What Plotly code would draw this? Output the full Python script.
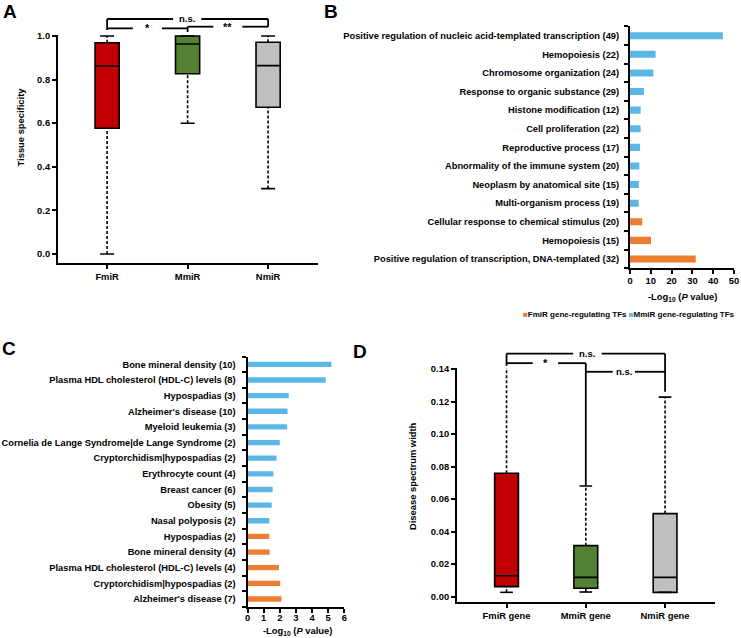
import plotly.graph_objects as go

W, H = 741, 638
FONT = "Liberation Sans, Arial, sans-serif"

# ---------------- Data ----------------
# Panel A: tissue specificity box plots
a_groups = ["FmiR", "MmiR", "NmiR"]
a_lower = [0.0, 0.60, 0.30]
a_q1 = [0.577, 0.827, 0.673]
a_median = [0.862, 0.963, 0.864]
a_q3 = [0.969, 1.0, 0.971]
a_upper = [1.0, 1.0, 1.0]
a_ticks = [0.0, 0.2, 0.4, 0.6, 0.8, 1.0]

# Panel B: TF enrichment
b_terms_mmir = [
    "Positive regulation of nucleic acid-templated transcription (49)",
    "Hemopoiesis (22)",
    "Chromosome organization (24)",
    "Response to organic substance (29)",
    "Histone modification (12)",
    "Cell proliferation (22)",
    "Reproductive process (17)",
    "Abnormality of the immune system (20)",
    "Neoplasm by anatomical site (15)",
    "Multi-organism process (19)",
]
b_vals_mmir = [44.6, 12.3, 11.2, 6.7, 5.1, 5.1, 4.8, 4.5, 4.3, 4.2]
b_terms_fmir = [
    "Cellular response to chemical stimulus (20)",
    "Hemopoiesis (15)",
    "Positive regulation of transcription, DNA-templated (32)",
]
b_vals_fmir = [5.9, 10.1, 31.6]
b_xticks = [0, 10, 20, 30, 40, 50]

# Panel C: disease enrichment
c_terms_mmir = [
    "Bone mineral density (10)",
    "Plasma HDL cholesterol (HDL-C) levels (8)",
    "Hypospadias (3)",
    "Alzheimer's disease (10)",
    "Myeloid leukemia (3)",
    "Cornelia de Lange Syndrome|de Lange Syndrome (2)",
    "Cryptorchidism|hypospadias (2)",
    "Erythrocyte count (4)",
    "Breast cancer (6)",
    "Obesity (5)",
    "Nasal polyposis (2)",
]
c_vals_mmir = [5.2, 4.85, 2.55, 2.48, 2.46, 2.0, 1.8, 1.6, 1.56, 1.5, 1.35]
c_terms_fmir = [
    "Hypospadias (2)",
    "Bone mineral density (4)",
    "Plasma HDL cholesterol (HDL-C) levels (4)",
    "Cryptorchidism|hypospadias (2)",
    "Alzheimer's disease (7)",
]
c_vals_fmir = [1.35, 1.37, 1.95, 2.03, 2.1]
c_xticks = [0, 1, 2, 3, 4, 5, 6]

# Panel D: disease spectrum width box plots
d_groups = ["FmiR gene", "MmiR gene", "NmiR gene"]
d_lower = [0.0027, 0.0029, 0.0027]
d_q1 = [0.0062, 0.0052, 0.0027]
d_median = [0.0129, 0.0119, 0.0119]
d_q3 = [0.0759, 0.0314, 0.0511]
d_upper = [0.1412, 0.0681, 0.1227]
d_ticks = [0.0, 0.02, 0.04, 0.06, 0.08, 0.10, 0.12, 0.14]

legend_names = ["FmiR gene-regulating TFs", "MmiR gene-regulating TFs"]

# ---------------- Style ----------------
box_colors = ["#C00000", "#548235", "#BFBFBF"]
BLUE = "#5BB7E5"
ORANGE = "#ED7D31"
FS = 9.4


def xd(p0, p1):
    return [p0 / W, p1 / W]


def yd(top, bot):
    return [1 - bot / H, 1 - top / H]


AX = {
    "A": dict(xr=[-0.61, 2.62], xdom=xd(58, 318), yr=[-0.04, 1.005], ydom=yd(34.9, 262.7)),
    "B": dict(xr=[0, 50], xdom=xd(630, 734), yr=[12.5, -0.5], ydom=yd(26.4, 268.3)),
    "C": dict(xr=[0, 6], xdom=xd(247.5, 344.3), yr=[15.5, -0.5], ydom=yd(356.5, 606.8)),
    "D": dict(xr=[-0.625, 2.63], xdom=xd(457, 715), yr=[-0.0033, 0.1405], ydom=yd(368.2, 602.1)),
}


def px_(v, rng, dom):
    return dom[0] + (v - rng[0]) / (rng[1] - rng[0]) * (dom[1] - dom[0])


def P(panel, x, y):
    a = AX[panel]
    return px_(x, a["xr"], a["xdom"]), px_(y, a["yr"], a["ydom"])


fig = go.Figure()


def add_boxes(groups, lower, q1, med, q3, upper, xa, ya, capw):
    for i, g in enumerate(groups):
        fig.add_trace(go.Box(
            x=[i], q1=[q1[i]], median=[med[i]], q3=[q3[i]],
            lowerfence=[q1[i]], upperfence=[q3[i]],
            width=0.3, fillcolor=box_colors[i],
            line=dict(color="black", width=1.6),
            boxpoints=False, whiskerwidth=0, name=g, showlegend=False,
            xaxis=xa, yaxis=ya, hoverinfo="skip"))
    wx, wy, cx, cy = [], [], [], []
    for i in range(len(groups)):
        wx += [i, i, None, i, i, None]
        wy += [q3[i], upper[i], None, lower[i], q1[i], None]
        cx += [i - capw, i + capw, None, i - capw, i + capw, None]
        cy += [upper[i], upper[i], None, lower[i], lower[i], None]
    fig.add_trace(go.Scatter(x=wx, y=wy, mode="lines", line=dict(color="black", width=1.6, dash="3px,2px"),
                             showlegend=False, cliponaxis=False, xaxis=xa, yaxis=ya, hoverinfo="skip"))
    fig.add_trace(go.Scatter(x=cx, y=cy, mode="lines", line=dict(color="black", width=1.6),
                             showlegend=False, cliponaxis=False, xaxis=xa, yaxis=ya, hoverinfo="skip"))


add_boxes(a_groups, a_lower, a_q1, a_median, a_q3, a_upper, "x", "y", 0.087)
add_boxes(d_groups, d_lower, d_q1, d_median, d_q3, d_upper, "x4", "y4", 0.08)

# Panel B bars
nb = len(b_terms_mmir)
fig.add_trace(go.Bar(x=b_vals_mmir, y=list(range(nb)), orientation="h", width=0.38,
                     marker=dict(color=BLUE, line=dict(width=0)), name=legend_names[1],
                     showlegend=False, xaxis="x2", yaxis="y2"))
fig.add_trace(go.Bar(x=b_vals_fmir, y=list(range(nb, nb + len(b_terms_fmir))), orientation="h", width=0.38,
                     marker=dict(color=ORANGE, line=dict(width=0)), name=legend_names[0],
                     showlegend=False, xaxis="x2", yaxis="y2"))
# Panel C bars
nc = len(c_terms_mmir)
fig.add_trace(go.Bar(x=c_vals_mmir, y=list(range(nc)), orientation="h", width=0.34,
                     marker=dict(color=BLUE, line=dict(width=0)), showlegend=False,
                     xaxis="x3", yaxis="y3"))
fig.add_trace(go.Bar(x=c_vals_fmir, y=list(range(nc, nc + len(c_terms_fmir))), orientation="h", width=0.34,
                     marker=dict(color=ORANGE, line=dict(width=0)), showlegend=False,
                     xaxis="x3", yaxis="y3"))

TF = dict(family=FONT, size=FS, color="black", weight="bold")
LINE = dict(showline=True, linecolor="black", linewidth=2, zeroline=False, showgrid=False,
            ticks="outside", ticklen=4, tickwidth=2, tickcolor="black", tickfont=TF, automargin=False)

b_terms = b_terms_mmir + b_terms_fmir
c_terms = c_terms_mmir + c_terms_fmir


def cat_y(panel, terms, anchor, standoff, size):
    return dict(domain=AX[panel]["ydom"], range=AX[panel]["yr"], tickvals=list(range(len(terms))),
                ticktext=terms, anchor=anchor, showline=True, linecolor="black", linewidth=2,
                zeroline=False, showgrid=False, ticks="", automargin=False,
                tickfont=dict(family=FONT, size=size, color="black", weight="bold"),
                ticklabelstandoff=standoff,
                minor=dict(tickvals=[i - 0.5 for i in range(len(terms) + 1)], ticks="outside",
                           ticklen=4, tickwidth=2, tickcolor="black", showgrid=False))


fig.update_layout(
    width=W, height=H, margin=dict(l=0, r=0, t=0, b=0, autoexpand=False),
    paper_bgcolor="white", plot_bgcolor="white", showlegend=False,
    font=dict(family=FONT, color="black"),
    xaxis=dict(domain=AX["A"]["xdom"], range=AX["A"]["xr"], tickvals=[0, 1, 2], ticktext=a_groups,
               anchor="y", **LINE),
    yaxis=dict(domain=AX["A"]["ydom"], range=AX["A"]["yr"], tickvals=a_ticks, tickformat=".1f",
               anchor="x", **LINE),
    xaxis2=dict(domain=AX["B"]["xdom"], range=AX["B"]["xr"], tickvals=b_xticks, anchor="y2",
                ticklabelstandoff=-2, **LINE),
    yaxis2=cat_y("B", b_terms, "x2", 7, 9.3),
    xaxis3=dict(domain=AX["C"]["xdom"], range=AX["C"]["xr"], tickvals=c_xticks, anchor="y3",
                ticklabelstandoff=-3, **LINE),
    yaxis3=cat_y("C", c_terms, "x3", 8, 9.3),
    xaxis4=dict(domain=AX["D"]["xdom"], range=AX["D"]["xr"], tickvals=[0, 1, 2], ticktext=d_groups,
                anchor="y4", **LINE),
    yaxis4=dict(domain=AX["D"]["ydom"], range=AX["D"]["yr"], tickvals=d_ticks, tickformat=".2f",
                anchor="x4", **LINE),
)

shapes = []
annots = []


def seg(panel, x0, y0, x1, y1):
    X0, Y0 = P(panel, x0, y0)
    X1, Y1 = P(panel, x1, y1)
    shapes.append(dict(type="line", xref="paper", yref="paper", x0=X0, y0=Y0, x1=X1, y1=Y1,
                       line=dict(color="black", width=1.8)))


def hbracket(panel, x0, x1, y, gap0, gap1, text, size):
    seg(panel, x0, y, gap0, y)
    seg(panel, gap1, y, x1, y)
    X, Y = P(panel, (gap0 + gap1) / 2, y)
    annots.append(dict(x=X, y=Y, xref="paper", yref="paper", text="<b>%s</b>" % text, showarrow=False,
                       font=dict(family=FONT, size=size, color="black"), xanchor="center", yanchor="middle"))


# Panel A significance brackets
hbracket("A", 0, 2, 1.078, 0.82, 1.17, "n.s.", 9.5)
seg("A", 0, 1.078, 0, 1.0275)
seg("A", 2, 1.078, 2, 1.0427)
hbracket("A", 0, 1, 1.035, 0.32, 0.68, "*", 11)
hbracket("A", 1, 2, 1.0427, 1.32, 1.68, "**", 11)
seg("A", 1, 1.0427, 1, 1.018)

# Panel D significance brackets
hbracket("D", 0, 2, 0.1494, 0.84, 1.20, "n.s.", 9.5)
seg("D", 0, 0.1494, 0, 0.1420)
seg("D", 2, 0.1494, 2, 0.1260)
hbracket("D", 0, 1, 0.1436, 0.33, 0.65, "*", 11)
seg("D", 1, 0.1436, 1, d_upper[1])
hbracket("D", 1, 2, 0.1383, 1.34, 1.62, "n.s.", 9.5)


def ann(xp, yp, text, size=FS, angle=0, xanchor="center"):
    annots.append(dict(x=xp / W, y=1 - yp / H, xref="paper", yref="paper", text=text, showarrow=False,
                       textangle=angle, xanchor=xanchor, yanchor="middle",
                       font=dict(family=FONT, size=size, color="black")))


# Panel letters
ann(9.5, 11, "<b>A</b>", 19)
ann(331, 11, "<b>B</b>", 19)
ann(9, 348, "<b>C</b>", 19)
ann(360, 351, "<b>D</b>", 19)

# Axis titles
ann(20, 127.5, "<b>Tissue specificity</b>", FS, -90)
ann(412, 476, "<b>Disease spectrum width</b>", FS, -90)
ann(682, 297, "<b>-Log<sub>10</sub> (<i>P</i> value)</b>", FS)
ann(297, 631, "<b>-Log<sub>10</sub> (<i>P</i> value)</b>", FS)

# Panel B legend
ann(629, 314,
    "<b><span style='color:%s'>■</span>%s <span style='color:%s'>■</span>%s</b>"
    % (ORANGE, legend_names[0], BLUE, legend_names[1]), 8)

fig.update_layout(shapes=shapes, annotations=annots)
fig.write_html("out.html", config={"displayModeBar": False},
               post_script="document.body.style.margin='0px';document.body.style.overflow='hidden';")
